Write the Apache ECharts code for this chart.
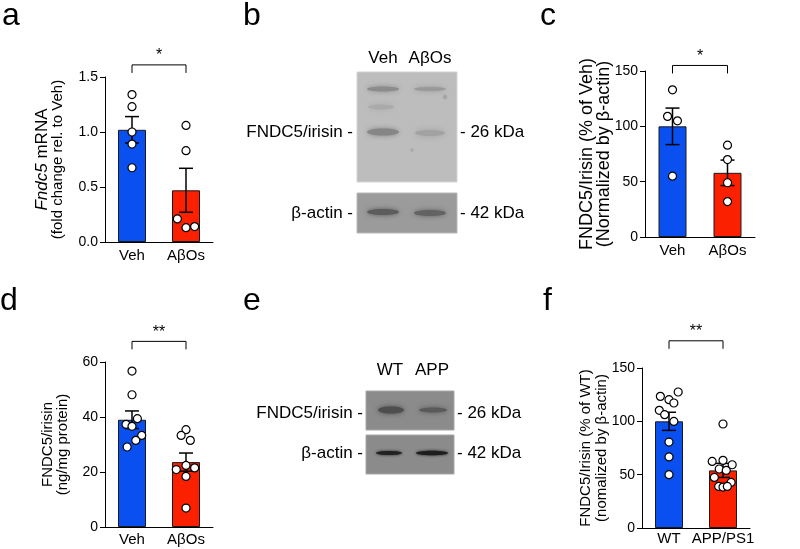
<!DOCTYPE html>
<html>
<head>
<meta charset="utf-8">
<script src="https://cdn.jsdelivr.net/npm/echarts@6/dist/echarts.min.js"></script>
<style>
  html, body { margin: 0; padding: 0; background: #fff; }
  #main { width: 800px; height: 549px; }
</style>
</head>
<body>
<div id="main"></div>
<script>
// ---- panel a: Fndc5 mRNA ----
const aCats = ['Veh', 'AβOs'];
const aVeh = [1.34, 1.23, 1.00, 0.89, 0.675];
const aAbo = [1.06, 0.83, 0.21, 0.13, 0.14];
const aVehJit = [0, 0, 0, 0, 0];
const aAboJit = [0, 0, -0.16, 0, 0.16];
const aMean = [1.02, 0.47];
const aSem = [0.12, 0.2];
const aTicks = [0, 0.5, 1.0, 1.5];
const aSig = 1.61;

// ---- panel c: FNDC5/irisin western blot quantification ----
const cCats = ['Veh', 'AβOs'];
const cVeh = [133, 109, 105, 55];
const cAbo = [83, 70, 49, 32];
const cVehJit = [0, -0.09, 0.09, 0];
const cAboJit = [0, 0, 0, 0];
const cMean = [100, 58];
const cSem = [16.5, 11.5];
const cTicks = [0, 50, 100, 150];
const cSig = 155;

// ---- panel d: FNDC5/irisin ELISA ----
const dCats = ['Veh', 'AβOs'];
const dVeh = [56.7, 48.1, 39.4, 37.3, 36.6, 33.3, 31.5, 29.1];
const dAbo = [35.4, 33.3, 31.5, 20.9, 22.4, 21.5, 18.4, 6.9];
const dVehJit = [0, 0, 0.1, -0.11, 0, 0.18, 0.07, -0.09];
const dAboJit = [0, -0.09, 0.08, -0.18, 0, 0.16, 0, 0];
const dMean = [39, 23.6];
const dSem = [3.2, 3.3];
const dTicks = [0, 20, 40, 60];
const dSig = 67.5;

// ---- panel f: WT vs APP/PS1 ----
const fCats = ['WT', 'APP/PS1'];
const fWt = [127.5, 123.4, 120.3, 117.2, 110.3, 106.2, 99.9, 80.6, 66.6, 50];
const fApp = [97.5, 62.4, 63.4, 59.3, 55.3, 54, 47.4, 42.7, 39, 38.4, 39];
const fWtJit = [0.17, -0.16, 0, 0.09, -0.18, -0.08, 0.09, 0, 0, 0];
const fAppJit = [0, -0.2, 0, 0.17, -0.07, 0.06, -0.16, 0.15, -0.08, 0, 0.08];
const fMean = [100, 54];
const fSem = [8.5, 6.6];
const fTicks = [0, 50, 100, 150];
const fSig = 175.5;

const FONT = 'Liberation Sans, Arial, sans-serif';
const BARCOL = ['#0a50f0', '#fa2000'];

// 每个面板的配置
const panels = [
  { grid: { left: 105, top: 77, width: 108, height: 165 },
    cats: aCats, groups: [aVeh, aAbo], jit: [aVehJit, aAboJit], mean: aMean, sem: aSem,
    ticks: aTicks, sigY: aSig, star: '*', fmt: v => v.toFixed(1),
    name: '{i|Fndc5}{b| mRNA}\n(fold change rel. to Veh)', nameSize: 15, nameLH: 15, nameGap: 40, labMargin: 6 },
  { grid: { left: 645, top: 71, width: 110, height: 166 },
    cats: cCats, groups: [cVeh, cAbo], jit: [cVehJit, cAboJit], mean: cMean, sem: cSem,
    ticks: cTicks, sigY: cSig, star: '*', fmt: v => String(v),
    name: 'FNDC5/Irisin (% of Veh)\n(Normalized by β-actin)', nameSize: 18, nameLH: 17, nameGap: 32, labMargin: 6 },
  { grid: { left: 105, top: 362, width: 108, height: 165 },
    cats: dCats, groups: [dVeh, dAbo], jit: [dVehJit, dAboJit], mean: dMean, sem: dSem,
    ticks: dTicks, sigY: dSig, star: '**', fmt: v => String(v),
    name: 'FNDC5/irisin\n(ng/mg protein)', nameSize: 15, nameLH: 15, nameGap: 35, labMargin: 5 },
  { grid: { left: 642, top: 368, width: 108, height: 160 },
    cats: fCats, groups: [fWt, fApp], jit: [fWtJit, fAppJit], mean: fMean, sem: fSem,
    ticks: fTicks, sigY: fSig, star: '**', fmt: v => String(v),
    name: 'FNDC5/Irisin (% of WT)\n(nomalized by β-actin)', nameSize: 15, nameLH: 16, nameGap: 32, labMargin: 3 }
];

// 误差线
function renderErr(params, api) {
  const x = api.value(0), m = api.value(1), s = api.value(2);
  const hi = api.coord([x, m + s]);
  const lo = api.coord([x, m - s]);
  const w = 7;
  const st = { stroke: '#000', lineWidth: 1.5 };
  return {
    type: 'group',
    children: [
      { type: 'line', shape: { x1: hi[0], y1: hi[1], x2: lo[0], y2: lo[1] }, style: st },
      { type: 'line', shape: { x1: hi[0] - w, y1: hi[1], x2: hi[0] + w, y2: hi[1] }, style: st },
      { type: 'line', shape: { x1: lo[0] - w, y1: lo[1], x2: lo[0] + w, y2: lo[1] }, style: st }
    ]
  };
}

// 显著性括号
function makeSig(star) {
  return function (params, api) {
    const a = api.coord([api.value(0), api.value(2)]);
    const b = api.coord([api.value(1), api.value(2)]);
    const st = { stroke: '#000', lineWidth: 1 };
    return {
      type: 'group',
      children: [
        { type: 'line', shape: { x1: a[0], y1: a[1], x2: b[0], y2: b[1] }, style: st },
        { type: 'line', shape: { x1: a[0], y1: a[1], x2: a[0], y2: a[1] + 8 }, style: st },
        { type: 'line', shape: { x1: b[0], y1: b[1], x2: b[0], y2: b[1] + 8 }, style: st },
        { type: 'text', x: (a[0] + b[0]) / 2, y: a[1] - 9,
          style: { text: star, fill: '#000', font: '16px ' + FONT, align: 'center', verticalAlign: 'middle' } }
      ]
    };
  };
}

const grid = [], xAxis = [], yAxis = [], series = [];
panels.forEach((p, i) => {
  grid.push(Object.assign({ outerBoundsMode: 'none', containLabel: false }, p.grid));
  xAxis.push({
    gridIndex: i, type: 'category', data: p.cats,
    axisLine: { show: true, onZero: false, lineStyle: { color: '#000', width: 1 } },
    axisTick: { show: false },
    axisLabel: { color: '#000', fontSize: 15, fontFamily: FONT, margin: p.labMargin, interval: 0 },
    splitLine: { show: false }
  });
  xAxis.push({ gridIndex: i, type: 'value', min: -0.5, max: 1.5, show: false,
    axisLine: { show: false, onZero: false }, splitLine: { show: false } });
  yAxis.push({
    gridIndex: i, type: 'value',
    min: p.ticks[0], max: p.ticks[p.ticks.length - 1], interval: p.ticks[1] - p.ticks[0],
    axisLine: { show: true, onZero: false, lineStyle: { color: '#000', width: 1 } },
    axisTick: { show: true, inside: false, length: 5, lineStyle: { color: '#000' } },
    axisLabel: { color: '#000', fontSize: 14, fontFamily: FONT, margin: 7, formatter: p.fmt },
    splitLine: { show: false },
    name: p.name, nameLocation: 'middle', nameGap: p.nameGap, nameMoveOverlap: false,
    nameTextStyle: {
      color: '#000', fontSize: p.nameSize, fontFamily: FONT, lineHeight: p.nameLH,
      rich: {
        i: { fontStyle: 'italic', fontSize: 17, fontFamily: FONT, lineHeight: p.nameLH, color: '#000' },
        b: { fontSize: 17, fontFamily: FONT, lineHeight: p.nameLH, color: '#000' }
      }
    }
  });
  series.push({
    type: 'bar', xAxisIndex: 2 * i, yAxisIndex: i, barWidth: 28, silent: true,
    data: p.mean.map((v, k) => ({ value: v, itemStyle: { color: BARCOL[k], borderColor: '#1a1a1a', borderWidth: 1 } }))
  });
  series.push({
    type: 'custom', xAxisIndex: 2 * i + 1, yAxisIndex: i, z: 3, silent: true,
    renderItem: renderErr,
    data: p.mean.map((m, k) => [k, m, p.sem[k]])
  });
  const pts = [];
  p.groups.forEach((g, k) => g.forEach((v, j) => pts.push([k + p.jit[k][j], v])));
  series.push({
    type: 'scatter', xAxisIndex: 2 * i + 1, yAxisIndex: i, z: 4, silent: true,
    symbol: 'circle', symbolSize: 8,
    itemStyle: { color: '#fff', borderColor: '#000', borderWidth: 1.2, opacity: 1 },
    data: pts
  });
  series.push({
    type: 'custom', xAxisIndex: 2 * i + 1, yAxisIndex: i, clip: false, silent: true,
    renderItem: makeSig(p.star),
    data: [[0, 1, p.sigY]]
  });
});

// 印迹图 (western blot)
function band(cx, cy, rx, ry, color, blur) {
  return { type: 'ellipse', shape: { cx: cx, cy: cy, rx: rx, ry: ry }, silent: true,
    style: { fill: color, shadowBlur: blur, shadowColor: color } };
}
function txt(x, y, s, align, size) {
  return { type: 'text', x: x, y: y, silent: true,
    style: { text: s, fill: '#000', font: (size || 17) + 'px ' + FONT, align: align, verticalAlign: 'middle' } };
}
const graphic = [
  txt(2, 16, 'a', 'left', 32), txt(243, 16, 'b', 'left', 32), txt(540, 16, 'c', 'left', 32),
  txt(0, 301, 'd', 'left', 32), txt(243, 301, 'e', 'left', 32), txt(543, 301, 'f', 'left', 32),

  // panel b
  txt(383, 58, 'Veh', 'center'), txt(430, 58, 'AβOs', 'center'),
  { type: 'rect', shape: { x: 357, y: 72, width: 100, height: 110 }, silent: true,
    style: { fill: '#bdbdbd', stroke: '#d4d4d4', lineWidth: 1 } },
  band(383, 89, 16, 2.5, '#8c8c8c', 5), band(430, 89, 16, 2, '#999999', 5),
  band(381, 107, 13, 2.5, '#aaaaaa', 6),
  band(383, 132, 16, 3.5, '#868686', 5), band(430, 133, 15, 3, '#a2a2a2', 6),
  band(445, 97, 2, 2, '#a5a5a5', 2), band(412, 150, 1.5, 1.5, '#a8a8a8', 2),
  { type: 'rect', shape: { x: 357, y: 193, width: 100, height: 40 }, silent: true,
    style: { fill: '#9b9b9b', stroke: '#b8b8b8', lineWidth: 1 } },
  band(383, 212, 16, 3, '#5c5c5c', 5), band(430, 213, 16, 3, '#636363', 5),
  txt(353, 132, 'FNDC5/irisin -', 'right'), txt(460, 132, '- 26 kDa', 'left'),
  txt(353, 213, 'β-actin -', 'right'), txt(460, 213, '- 42 kDa', 'left'),

  // panel e
  txt(390, 370, 'WT', 'center'), txt(432, 370, 'APP', 'center'),
  { type: 'rect', shape: { x: 366, y: 391, width: 88, height: 39 }, silent: true,
    style: { fill: '#8b8b8b', stroke: '#a8a8a8', lineWidth: 1 } },
  band(391, 410, 13, 3.5, '#4e4e4e', 5), band(433, 410, 14, 2.5, '#5a5a5a', 5),
  { type: 'rect', shape: { x: 366, y: 435, width: 88, height: 39 }, silent: true,
    style: { fill: '#8b8b8b', stroke: '#a8a8a8', lineWidth: 1 } },
  band(389, 453, 13, 2, '#222222', 3), band(432, 453, 16, 2.3, '#1e1e1e', 3),
  txt(363, 413, 'FNDC5/irisin -', 'right'), txt(457, 413, '- 26 kDa', 'left'),
  txt(363, 453, 'β-actin -', 'right'), txt(457, 453, '- 42 kDa', 'left')
];

const chart = echarts.init(document.getElementById('main'), null, { renderer: 'canvas' });
chart.setOption({
  backgroundColor: '#fff',
  animation: false,
  textStyle: { fontFamily: FONT },
  grid: grid,
  xAxis: xAxis,
  yAxis: yAxis,
  series: series,
  graphic: graphic
});
</script>
</body>
</html>
